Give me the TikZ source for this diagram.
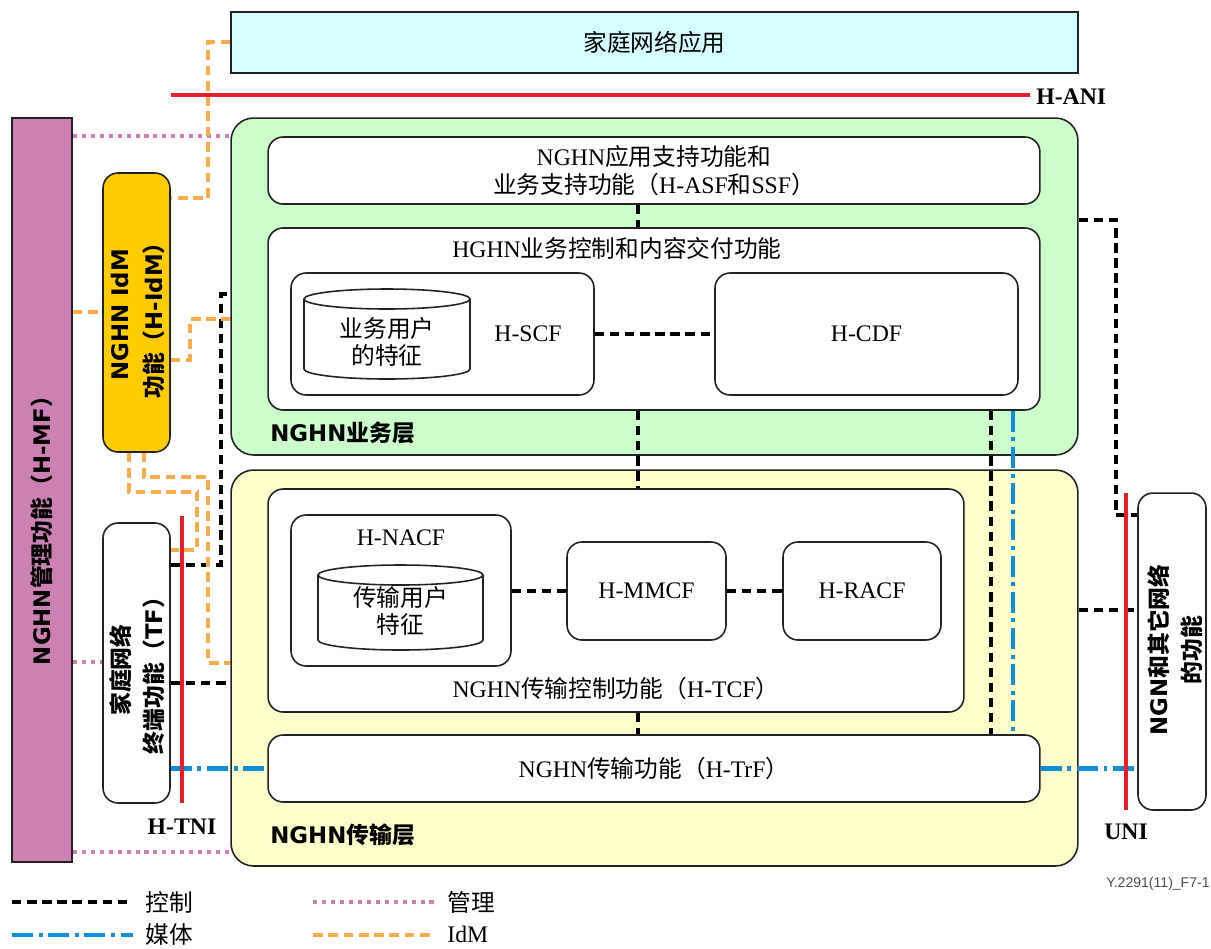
\documentclass[tikz,border=0pt]{standalone}
\usepackage{fontspec}
\setmainfont{Liberation Serif}
\newfontfamily\cjk{Noto Sans CJK SC}
\newfontfamily\gsans{DejaVu Sans}
\newfontfamily\lsans{Liberation Sans}
\newcommand{\zh}[1]{{\cjk #1}}
\definecolor{appcyan}{RGB}{213,255,255}
\definecolor{mfpink}{RGB}{204,128,180}
\definecolor{idmgold}{RGB}{255,204,0}
\definecolor{svcgreen}{RGB}{204,255,204}
\definecolor{trnyellow}{RGB}{255,255,204}
\definecolor{ifred}{RGB}{229,32,43}
\definecolor{mediablue}{RGB}{12,143,214}
\definecolor{idmorange}{RGB}{250,172,74}
\definecolor{lineclr}{RGB}{34,34,34}
\begin{document}
\begin{tikzpicture}[x=0.02cm, y=-0.02cm,
    txt/.style={font=\fontsize{13.5}{15.5}\selectfont, align=center, inner sep=0pt},
    boldlbl/.style={font=\fontsize{13}{19}\selectfont\gsans\bfseries, align=center, inner sep=0pt},
    box/.style={draw=lineclr, line width=0.9pt, fill=white, rounded corners=0.3cm, inner sep=0pt},
    layer/.style={draw=lineclr, line width=0.9pt, rounded corners=0.45cm, inner sep=0pt},
    ctrl/.style={line width=2.3pt, dash pattern=on 5.4pt off 3.2pt},
    media/.style={mediablue, line width=2.3pt, dash pattern=on 12pt off 3.2pt on 2.2pt off 3.2pt},
    mgmt/.style={mfpink, line width=2.3pt, dash pattern=on 2.3pt off 2.8pt},
    idml/.style={idmorange, line width=2.4pt, dash pattern=on 5.5pt off 3.2pt},
    iface/.style={ifred, line width=2.3pt},
    ifname/.style={font=\fontsize{13.5}{15}\selectfont\bfseries, inner sep=0pt}]
    \useasboundingbox (0,0) rectangle (1211,948);

    % Home network application
    \node[draw=lineclr, line width=0.9pt, fill=appcyan, minimum width=16.94cm, minimum height=1.22cm, txt] (app) at (654.5,42.5) {\zh{家庭网络应用}};

    % Management and IdM columns
    \node[draw=lineclr, line width=0.9pt, fill=mfpink, minimum width=1.2cm, minimum height=14.88cm] (mf) at (42,490) {};
    \node[boldlbl, rotate=90] (mflbl) at (42,525) {NGHN\zh{管理功能（}H-MF\zh{）}};
    \node[box, fill=idmgold, minimum width=1.34cm, minimum height=5.58cm] (idm) at (136.5,312.5) {};
    \node[boldlbl, rotate=90] (idmlbl) at (138,315) {NGHN IdM\\\zh{功能（}H-IdM\zh{）}};
    \node[box, minimum width=1.34cm, minimum height=5.6cm] (tf) at (136.5,663) {};
    \node[boldlbl, rotate=90] (tflbl) at (137,670) {\zh{家庭网络}\\\zh{终端功能（}TF\zh{）}};

    % Service stratum
    \node[layer, fill=svcgreen, minimum width=16.94cm, minimum height=6.74cm] (svc) at (654.5,286.5) {};
    \node[box, minimum width=15.44cm, minimum height=1.34cm, txt] (asf) at (654,170.5) {NGHN\zh{应用支持功能和}\\\zh{业务支持功能（}H-ASF\zh{和}SSF\zh{）}};
    \node[box, minimum width=15.44cm, minimum height=3.64cm] (scd) at (654,319) {};
    \node[txt] (scdlbl) at (617,248) {HGHN\zh{业务控制和内容交付功能}};
    \node[box, minimum width=6.06cm, minimum height=2.44cm] (scf) at (442.5,334) {};
    \draw[lineclr, line width=0.9pt, fill=white] (304,299) -- (304,369) arc[start angle=180, end angle=0, x radius=83, y radius=10] -- (470,299);
    \draw[lineclr, line width=0.9pt] (387,299) ellipse[x radius=83, y radius=10];
    \node[txt] (db1) at (387,342) {\zh{业务用户}\\\zh{的特征}};
    \node[txt] (scflbl) at (528,334) {H-SCF};
    \node[box, minimum width=6.06cm, minimum height=2.44cm, txt] (cdf) at (866.5,334) {H-CDF};
    \node[boldlbl, anchor=west] (svclbl) at (270,433) {NGHN\zh{业务层}};

    % Transport stratum
    \node[layer, fill=trnyellow, minimum width=16.94cm, minimum height=7.92cm] (trn) at (654.5,668) {};
    \node[box, minimum width=13.92cm, minimum height=4.46cm] (tcf) at (616,600.5) {};
    \node[txt] (tcflbl) at (616,688) {NGHN\zh{传输控制功能（}H-TCF\zh{）}};
    \node[box, minimum width=4.4cm, minimum height=3.02cm] (nacf) at (401,590.5) {};
    \node[txt] (nacflbl) at (401,538) {H-NACF};
    \draw[lineclr, line width=0.9pt, fill=white] (318,575) -- (318,640) arc[start angle=180, end angle=0, x radius=82.5, y radius=10] -- (483,575);
    \draw[lineclr, line width=0.9pt] (400.5,575) ellipse[x radius=82.5, y radius=10];
    \node[txt] (db2) at (400.5,611) {\zh{传输用户}\\\zh{特征}};
    \node[box, minimum width=3.18cm, minimum height=1.96cm, txt] (mmcf) at (646.5,591) {H-MMCF};
    \node[box, minimum width=3.16cm, minimum height=1.96cm, txt] (racf) at (862,591) {H-RACF};
    \node[box, minimum width=15.44cm, minimum height=1.34cm, txt] (trf) at (654,768.5) {NGHN\zh{传输功能（}H-TrF\zh{）}};
    \node[boldlbl, anchor=west] (trnlbl) at (270,835) {NGHN\zh{传输层}};

    % Other networks
    \node[box, minimum width=1.36cm, minimum height=6.34cm] (ngn) at (1172,651.5) {};
    \node[boldlbl, rotate=90] (ngnlbl) at (1175,650) {NGN\zh{和其它网络}\\\zh{的功能}};

    % Control links
    \coordinate (cx) at (638,0);
    \coordinate (cy) at (991,0);
    \draw[ctrl] (cx |- asf.south) -- (cx |- scd.north);
    \draw[ctrl] (cx |- scd.south) -- (cx |- tcf.north);
    \draw[ctrl] (cx |- tcf.south) -- (cx |- trf.north);
    \draw[ctrl] (scf.east) -- (cdf.west);
    \draw[ctrl] (nacf.east |- mmcf.west) -- (mmcf.west);
    \draw[ctrl] (mmcf.east) -- (racf.west);
    \draw[ctrl] (cy |- scd.south) -- (cy |- trf.north);
    \coordinate (r1) at (1116,220);
    \coordinate (r2) at (1116,515);
    \coordinate (r3) at (1100,610);
    \draw[ctrl] (svc.east |- r1) -- (r1) -- (r2) -- (ngn.west |- r2);
    \draw[ctrl] (trn.east |- r3) -- (ngn.west |- r3);
    \coordinate (l1) at (221,565);
    \coordinate (l2) at (221,294);
    \coordinate (l3) at (200,683);
    \draw[ctrl] (tf.east |- l1) -- (l1) -- (l2) -- (svc.west |- l2);
    \draw[ctrl] (tf.east |- l3) -- (trn.west |- l3);

    % Media links
    \coordinate (bx) at (1013,0);
    \draw[media] (bx |- scd.south) -- (bx |- trf.north);
    \draw[media] (tf.east |- trf.west) -- (trf.west);
    \draw[media] (trf.east) -- (ngn.west |- trf.east);

    % Management links
    \coordinate (m1) at (100,136);
    \coordinate (m2) at (90,662);
    \coordinate (m3) at (100,852);
    \draw[mgmt] (mf.east |- m1) -- (svc.west |- m1);
    \draw[mgmt] (mf.east |- m2) -- (tf.west |- m2);
    \draw[mgmt] (mf.east |- m3) -- (trn.west |- m3);

    % IdM links
    \coordinate (i1) at (208,42);
    \coordinate (i2) at (208,198);
    \coordinate (i3) at (90,312);
    \coordinate (i4) at (190,360);
    \coordinate (i5) at (190,319);
    \coordinate (i6) at (129,492);
    \coordinate (i7) at (197,492);
    \coordinate (i8) at (197,550);
    \coordinate (i9) at (144,477);
    \coordinate (i10) at (208,477);
    \coordinate (i11) at (208,663);
    \draw[idml] (app.west |- i1) -- (i1) -- (i2) -- (idm.east |- i2);
    \draw[idml] (mf.east |- i3) -- (idm.west |- i3);
    \draw[idml] (idm.east |- i4) -- (i4) -- (i5) -- (svc.west |- i5);
    \draw[idml] (i6 |- idm.south) -- (i6) -- (i7) -- (i8) -- (tf.east |- i8);
    \draw[idml] (i9 |- idm.south) -- (i9) -- (i10) -- (i11) -- (trn.west |- i11);

    % Reference points
    \coordinate (ani1) at (171,95);
    \coordinate (ani2) at (1030,95);
    \draw[iface] (ani1) -- (ani2);
    \node[ifname, anchor=west] (ani) at (1036,97) {H-ANI};
    \coordinate (tni1) at (182,516);
    \coordinate (tni2) at (182,803);
    \draw[iface] (tni1) -- (tni2);
    \node[ifname] (tni) at (182,827) {H-TNI};
    \coordinate (uni1) at (1126,493);
    \coordinate (uni2) at (1126,810);
    \draw[iface] (uni1) -- (uni2);
    \node[ifname] (uni) at (1126,832) {UNI};

    % Legend
    \coordinate (lg1a) at (12,902);
    \coordinate (lg1b) at (128,902);
    \draw[ctrl] (lg1a) -- (lg1b);
    \node[txt, anchor=west] (lg1) at (145,902) {\zh{控制}};
    \coordinate (lg2a) at (12,935);
    \coordinate (lg2b) at (133,935);
    \draw[media] (lg2a) -- (lg2b);
    \node[txt, anchor=west] (lg2) at (145,934) {\zh{媒体}};
    \coordinate (lg3a) at (313,902);
    \coordinate (lg3b) at (435,902);
    \draw[mgmt] (lg3a) -- (lg3b);
    \node[txt, anchor=west] (lg3) at (447,902) {\zh{管理}};
    \coordinate (lg4a) at (313,935);
    \coordinate (lg4b) at (432,935);
    \draw[idml] (lg4a) -- (lg4b);
    \node[txt, anchor=west] (lg4) at (447,934) {IdM};
    \node[font=\fontsize{8}{9}\selectfont\lsans, text=black!70, anchor=east, inner sep=0pt] (fig) at (1210,884) {Y.2291(11)\_F7-1};
\end{tikzpicture}
\end{document}
